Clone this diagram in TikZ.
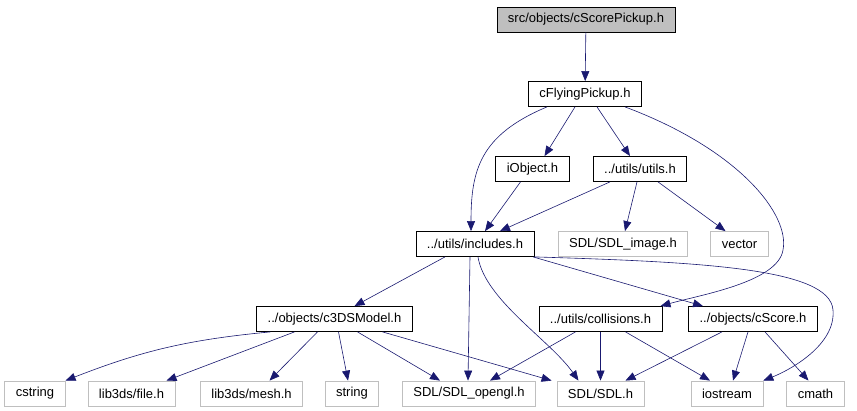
\documentclass[tikz,border=0pt]{standalone}
\usepackage{fontspec}
\setmainfont{Liberation Sans}
\usetikzlibrary{arrows.meta}

\definecolor{edgeblue}{RGB}{25,25,112}
\definecolor{extgray}{RGB}{191,191,191}

\begin{document}
\begin{tikzpicture}[
    x=1pt, y=-1pt,
    >={Triangle[length=10pt,width=8pt]},
    file/.style={rectangle, draw=black, line width=0.8pt, minimum height=25pt, inner xsep=11pt, inner ysep=0pt},
    sysfile/.style={file, draw=extgray},
    root/.style={file, fill=extgray},
    dep/.style={->, draw=edgeblue, line width=0.6pt},
    every node/.style={font=\fontsize{13}{15}\selectfont}
]
\useasboundingbox (0,0) rectangle (857,411);

% project headers
\node[root] (pickup) at (586,19.5) {src/objects/cScorePickup.h};
\node[file] (flying) at (585,94) {cFlyingPickup.h};
\node[file] (iobject) at (532.5,169) {iObject.h};
\node[file] (utils) at (640,169) {../utils/utils.h};
\node[file] (includes) at (475,244) {../utils/includes.h};
\node[file] (model) at (334.5,319) {../objects/c3DSModel.h};
\node[file] (collisions) at (600.5,319) {../utils/collisions.h};
\node[file] (score) at (753,319) {../objects/cScore.h};

% system headers
\node[sysfile] (sdlimage) at (623,244) {SDL/SDL\_image.h};
\node[sysfile] (vector) at (739.5,244) {vector};
\node[sysfile] (cstring) at (35,393.5) {cstring};
\node[sysfile] (libfile) at (131.5,393.5) {lib3ds/file.h};
\node[sysfile] (libmesh) at (251.5,393.5) {lib3ds/mesh.h};
\node[sysfile] (string) at (352,393.5) {string};
\node[sysfile] (opengl) at (469,393.5) {SDL/SDL\_opengl.h};
\node[sysfile] (sdl) at (600.5,393.5) {SDL/SDL.h};
\node[sysfile] (iostream) at (727,393.5) {iostream};
\node[sysfile] (cmath) at (815.5,393.5) {cmath};

\draw[dep] (pickup) -- (flying);

\draw[dep] ([xshift=-38pt]flying.south) .. controls (480,135) and (471,170) .. ([xshift=-4pt]includes.north);
\draw[dep] ([xshift=-10pt]flying.south) -- ([xshift=12pt]iobject.north);
\draw[dep] ([xshift=12pt]flying.south) -- ([xshift=-10pt]utils.north);
\draw[dep] ([xshift=40pt]flying.south) .. controls (740,150) and (790,215) .. (783,250)
    .. controls (778,282) and (700,295) .. ([xshift=-2pt]collisions.north east);

\draw[dep] ([xshift=-12pt]iobject.south) -- ([xshift=10pt]includes.north);
\draw[dep] ([xshift=-30pt]utils.south) -- ([xshift=25pt]includes.north);
\draw[dep] ([xshift=-3pt]utils.south) -- ([xshift=2pt]sdlimage.north);
\draw[dep] ([xshift=18pt]utils.south) -- ([xshift=-14pt]vector.north);

\draw[dep] ([xshift=-30pt]includes.south) -- ([xshift=20pt]model.north);
\draw[dep] ([xshift=-5pt]includes.south) -- ([xshift=-1pt]opengl.north);
\draw[dep] ([xshift=3pt]includes.south) .. controls (485,300) and (550,340) .. ([xshift=-22pt]sdl.north);
\draw[dep] ([xshift=58pt]includes.south) -- ([xshift=-50pt]score.north);
\draw[dep] (includes.south east) .. controls (700,262) and (830,268) .. (833,310)
    .. controls (836,345) and (790,370) .. (iostream.north east);

\draw[dep, bend right=8] ([xshift=-64pt]model.south) to (cstring.north east);
\draw[dep] ([xshift=-40pt]model.south) -- ([xshift=35pt]libfile.north);
\draw[dep] ([xshift=-17pt]model.south) -- ([xshift=18pt]libmesh.north);
\draw[dep] ([xshift=4pt]model.south) -- ([xshift=-4pt]string.north);
\draw[dep] ([xshift=23pt]model.south) -- ([xshift=-29pt]opengl.north);
\draw[dep] ([xshift=48pt]model.south) -- ([xshift=-5pt]sdl.north west);

\draw[dep] ([xshift=-25pt]collisions.south) -- ([xshift=21pt]opengl.north);
\draw[dep] (collisions.south) -- (sdl.north);
\draw[dep] ([xshift=25pt]collisions.south) -- ([xshift=-17pt]iostream.north);

\draw[dep] ([xshift=-31pt]score.south) -- ([xshift=25pt]sdl.north);
\draw[dep] ([xshift=-5pt]score.south) -- ([xshift=6pt]iostream.north);
\draw[dep] ([xshift=12pt]score.south) -- ([xshift=-7pt]cmath.north);
\end{tikzpicture}
\end{document}
